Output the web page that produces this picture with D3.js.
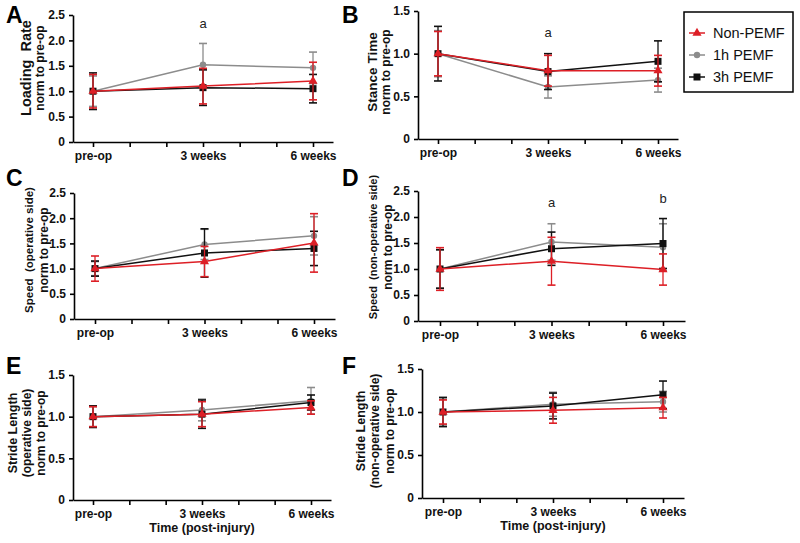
<!DOCTYPE html>
<html>
<head>
<meta charset="utf-8">
<script src="https://cdn.jsdelivr.net/npm/d3@7"></script>
<style>
  body { margin: 0; background: #fff; }
  text { font-family: Arial, "Liberation Sans", sans-serif; white-space: pre; }
</style>
</head>
<body>
<svg id="chart" width="800" height="543"></svg>
<script>
// time points (weeks post-injury)
var weeks = [0, 3, 6];
var timeLabels = ["pre-op", "3 weeks", "6 weeks"];
var seriesNames = ["Non-PEMF", "1h PEMF", "3h PEMF"];

// A: loading rate
var loadNon = [1.00, 1.10, 1.20], loadNonErr = [0.33, 0.35, 0.37];
var load1h  = [1.00, 1.52, 1.46], load1hErr  = [0.30, 0.42, 0.31];
var load3h  = [1.00, 1.07, 1.05], load3hErr  = [0.36, 0.35, 0.28];
// B: stance time
var stanceNon = [1.00, 0.80, 0.80], stanceNonErr = [0.26, 0.18, 0.18];
var stance1h  = [1.00, 0.61, 0.69], stance1hErr  = [0.27, 0.13, 0.14];
var stance3h  = [1.00, 0.79, 0.91], stance3hErr  = [0.32, 0.21, 0.24];
// C: speed, operative side
var speedOpNon = [1.00, 1.14, 1.51], speedOpNonErr = [0.25, 0.30, 0.58];
var speedOp1h  = [1.00, 1.48, 1.65], speedOp1hErr  = [0.14, 0.30, 0.38];
var speedOp3h  = [1.00, 1.31, 1.40], speedOp3hErr  = [0.15, 0.48, 0.34];
// D: speed, non-operative side
var speedNonNon = [1.00, 1.15, 0.99], speedNonNonErr = [0.41, 0.46, 0.30];
var speedNon1h  = [1.00, 1.52, 1.42], speedNon1hErr  = [0.37, 0.35, 0.45];
var speedNon3h  = [1.00, 1.39, 1.49], speedNon3hErr  = [0.37, 0.32, 0.48];
// E: stride length, operative side
var strideOpNon = [1.00, 1.03, 1.11], strideOpNonErr = [0.12, 0.15, 0.08];
var strideOp1h  = [1.00, 1.08, 1.19], strideOp1hErr  = [0.12, 0.13, 0.16];
var strideOp3h  = [1.00, 1.03, 1.17], strideOp3hErr  = [0.13, 0.17, 0.09];
// F: stride length, non-operative side
var strideNonNon = [1.00, 1.02, 1.05], strideNonNonErr = [0.14, 0.15, 0.12];
var strideNon1h  = [1.00, 1.09, 1.12], strideNon1hErr  = [0.15, 0.14, 0.12];
var strideNon3h  = [1.00, 1.07, 1.20], strideNon3hErr  = [0.17, 0.15, 0.16];

var colors = { "Non-PEMF": "#dd1f26", "1h PEMF": "#8c8c8c", "3h PEMF": "#111" };

var panels = [
  { letter: "A", lx: 6, ly: 23, ax: 73, pre: 93, w6: 313, y0: 142, yTop: 15, max: 2.5,
    title: ["Loading  Rate", "norm to pre-op"], tsize: [14.5, 12], tx: [26, 40], tcy: 68,
    non: [loadNon, loadNonErr], h1: [load1h, load1hErr], h3: [load3h, load3hErr],
    marks: [[3, 2.24, "a"]] },
  { letter: "B", lx: 342, ly: 23, ax: 418, pre: 438, w6: 658, y0: 139, yTop: 11, max: 1.5,
    title: ["Stance Time", "norm to pre-op"], tsize: [13.5, 12], tx: [372, 386], tcy: 72,
    non: [stanceNon, stanceNonErr], h1: [stance1h, stance1hErr], h3: [stance3h, stance3hErr],
    marks: [[3, 1.19, "a"]] },
  { letter: "C", lx: 6, ly: 186, ax: 74, pre: 95, w6: 314, y0: 319, yTop: 193, max: 2.5,
    title: ["Speed  (operative side)", "norm to pre-op"], tsize: [11.5, 12], tx: [29, 44], tcy: 250,
    non: [speedOpNon, speedOpNonErr], h1: [speedOp1h, speedOp1hErr], h3: [speedOp3h, speedOp3hErr],
    marks: [] },
  { letter: "D", lx: 342, ly: 186, ax: 418, pre: 440, w6: 663, y0: 321, yTop: 191, max: 2.5,
    title: ["Speed  (non-operative side)", "norm to pre-op"], tsize: [11, 12], tx: [373, 388], tcy: 247,
    non: [speedNonNon, speedNonNonErr], h1: [speedNon1h, speedNon1hErr], h3: [speedNon3h, speedNon3hErr],
    marks: [[3, 2.19, "a"], [6, 2.26, "b"]] },
  { letter: "E", lx: 6, ly: 374, ax: 73, pre: 93, w6: 311, y0: 500, yTop: 375, max: 1.5,
    title: ["Stride Length", "(operative side)", "norm to pre-op"], tsize: [12.5, 12, 12], tx: [13, 27, 41], tcy: 433,
    non: [strideOpNon, strideOpNonErr], h1: [strideOp1h, strideOp1hErr], h3: [strideOp3h, strideOp3hErr],
    marks: [], xtitle: "Time (post-injury)" },
  { letter: "F", lx: 342, ly: 374, ax: 422, pre: 443, w6: 663, y0: 498, yTop: 369, max: 1.5,
    title: ["Stride Length", "(non-operative side)", "norm to pre-op"], tsize: [12.5, 12, 12], tx: [361, 375, 390], tcy: 431,
    non: [strideNonNon, strideNonNonErr], h1: [strideNon1h, strideNon1hErr], h3: [strideNon3h, strideNon3hErr],
    marks: [], xtitle: "Time (post-injury)" }
];

var svg = d3.select("#chart");

function drawMarker(g, name, cx, cy) {
  var c = colors[name];
  if (name === "Non-PEMF") {
    g.append("path").attr("d", d3.symbol(d3.symbolTriangle, 36)())
      .attr("transform", "translate(" + cx + "," + cy + ")").attr("fill", c);
  } else if (name === "1h PEMF") {
    g.append("circle").attr("cx", cx).attr("cy", cy).attr("r", 3.2).attr("fill", c);
  } else {
    g.append("rect").attr("x", cx - 3.5).attr("y", cy - 3.5).attr("width", 7).attr("height", 7).attr("fill", c);
  }
}

panels.forEach(function(p) {
  var g = svg.append("g");
  var x = d3.scaleLinear().domain([0, 6]).range([p.pre, p.w6]);
  var lo = x.invert(p.ax), hi = 6 - lo;
  var xAxisScale = d3.scaleLinear().domain([lo, hi]).range([x(lo), x(hi)]);
  var y = d3.scaleLinear().domain([0, p.max]).range([p.y0, p.yTop]);

  // axes
  var xa = g.append("g").attr("transform", "translate(0," + p.y0 + ")")
    .call(d3.axisBottom(xAxisScale).tickValues(d3.range(0, 7)).tickSizeInner(5).tickSizeOuter(0)
      .tickFormat(function(d) { var i = weeks.indexOf(d); return i >= 0 ? timeLabels[i] : ""; }));
  var ya = g.append("g").attr("transform", "translate(" + p.ax + ",0)")
    .call(d3.axisLeft(y).tickValues(d3.range(0, p.max + 0.01, 0.5)).tickSizeInner(4).tickSizeOuter(0)
      .tickFormat(function(d) { return d === 0 ? "0" : d3.format(".1f")(d); }));
  [xa, ya].forEach(function(a) {
    a.select(".domain").attr("stroke", "#000").attr("stroke-width", 1.6);
    a.selectAll(".tick line").attr("stroke", "#000").attr("stroke-width", 1.6);
    a.selectAll(".tick text").attr("fill", "#111").style("font-size", "12px").style("font-weight", "bold")
      .style("font-family", "Arial, 'Liberation Sans', sans-serif");
  });
  xa.selectAll(".tick text").attr("dy", "0.8em");
  ya.selectAll(".tick text").attr("dx", "-1px");

  // series: gray first, black, red on top
  var series = [["1h PEMF", p.h1], ["3h PEMF", p.h3], ["Non-PEMF", p.non]];
  series.forEach(function(s) {
    var name = s[0], means = s[1][0], errs = s[1][1], c = colors[name];
    var pts = weeks.map(function(w, i) { return { w: w, m: means[i], e: errs[i] }; });
    var sg = g.append("g");
    sg.append("path").datum(pts)
      .attr("d", d3.line().x(function(d) { return x(d.w); }).y(function(d) { return y(d.m); }))
      .attr("fill", "none").attr("stroke", c).attr("stroke-width", 1.5);
    pts.forEach(function(d) {
      var cx = x(d.w), yt = y(d.m + d.e), yb = y(d.m - d.e);
      sg.append("line").attr("x1", cx).attr("x2", cx).attr("y1", yt).attr("y2", yb)
        .attr("stroke", c).attr("stroke-width", 1.3);
      [yt, yb].forEach(function(yy) {
        sg.append("line").attr("x1", cx - 4).attr("x2", cx + 4).attr("y1", yy).attr("y2", yy)
          .attr("stroke", c).attr("stroke-width", 1.6);
      });
      drawMarker(sg, name, cx, y(d.m));
    });
  });

  // significance letters
  p.marks.forEach(function(m) {
    g.append("text").attr("x", x(m[0])).attr("y", y(m[1])).attr("text-anchor", "middle")
      .style("font-size", "13px").attr("fill", "#222").text(m[2]);
  });

  // y title
  p.title.forEach(function(t, i) {
    g.append("text").attr("transform", "translate(" + p.tx[i] + "," + p.tcy + ") rotate(-90)")
      .attr("text-anchor", "middle").attr("dy", "0.35em")
      .style("font-size", p.tsize[i] + "px").style("font-weight", "bold").attr("fill", "#111").text(t);
  });

  if (p.xtitle) {
    g.append("text").attr("x", x(3)).attr("y", p.y0 + 32).attr("text-anchor", "middle")
      .style("font-size", "12.5px").style("font-weight", "bold").attr("fill", "#111").text(p.xtitle);
  }

  // panel letter
  g.append("text").attr("x", p.lx).attr("y", p.ly)
    .style("font-size", "23px").style("font-weight", "bold").attr("fill", "#000").text(p.letter);
});

// legend
var lg = svg.append("g").attr("transform", "translate(684,12)");
lg.append("rect").attr("width", 109).attr("height", 80).attr("fill", "#fff")
  .attr("stroke", "#000").attr("stroke-width", 1.5);
seriesNames.forEach(function(name, i) {
  var yy = 21 + i * 22;
  lg.append("line").attr("x1", 5).attr("x2", 21).attr("y1", yy).attr("y2", yy)
    .attr("stroke", colors[name]).attr("stroke-width", 1.5);
  drawMarker(lg, name, 13, yy);
  lg.append("text").attr("x", 29).attr("y", yy).attr("dy", "0.36em")
    .style("font-size", "14.5px").attr("fill", "#111").text(name);
});
</script>
</body>
</html>
